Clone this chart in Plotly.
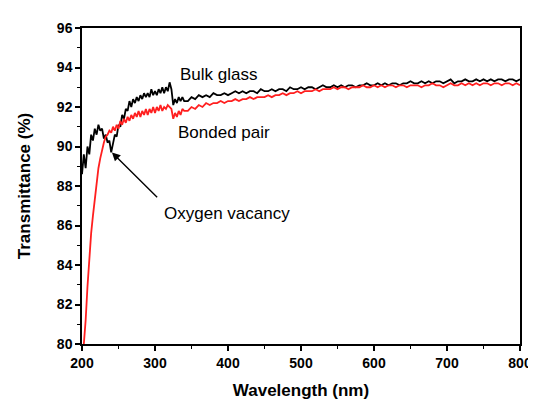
import plotly.graph_objects as go

# wavelength grid (nm): fine steps in the noisy UV region, coarser afterwards
wavelength_fine = [200 + 2.5 * i for i in range(57)]      # 200 ... 340
wavelength_coarse = list(range(345, 801, 5))               # 345 ... 800

bulk_glass_fine = [
    88.6, 89.6, 88.9, 90.0, 89.6, 90.6, 90.3, 90.9, 90.6, 91.1,
    90.8, 90.9, 90.4, 90.6, 90.2, 90.3, 89.7, 90.1, 90.6, 90.5,
    91.1, 91.0, 91.6, 91.4, 91.9, 91.8, 92.3, 92.0, 92.4, 92.2,
    92.5, 92.3, 92.6, 92.4, 92.7, 92.5, 92.7, 92.5, 92.9, 92.6,
    92.8, 92.6, 92.9, 92.7, 93.0, 92.7, 93.0, 92.8, 93.25, 92.9,
    92.1, 92.4, 92.2, 92.5, 92.3, 92.5, 92.3,
]
bulk_glass_coarse = [
    92.3, 92.5, 92.4, 92.6, 92.5, 92.6, 92.5, 92.7, 92.6, 92.6,
    92.7, 92.6, 92.7, 92.8, 92.7, 92.8, 92.7, 92.8, 92.8, 92.7,
    92.9, 92.8, 92.8, 92.9, 92.8, 92.9, 92.9, 92.8, 93.0, 92.9,
    92.9, 93.0, 92.9, 93.0, 93.0, 92.9, 93.0, 93.1, 93.0, 93.0,
    93.1, 93.0, 93.1, 93.0, 93.1, 93.1, 93.0, 93.1, 93.1, 93.2,
    93.1, 93.1, 93.2, 93.1, 93.2, 93.1, 93.2, 93.2, 93.1, 93.2,
    93.2, 93.3, 93.2, 93.2, 93.3, 93.2, 93.3, 93.2, 93.3, 93.3,
    93.2, 93.3, 93.4, 93.2, 93.3, 93.3, 93.4, 93.3, 93.3, 93.4,
    93.3, 93.4, 93.3, 93.4, 93.3, 93.4, 93.4, 93.3, 93.4, 93.4,
    93.3, 93.4,
]

bonded_pair_fine = [
    None, 80.0, 81.2, 82.9, 84.4, 85.6, 86.5, 87.4, 88.2, 88.9,
    89.4, 89.9, 90.2, 90.5, 90.6, 90.8, 90.7, 91.0, 90.8, 91.1,
    90.9, 91.3, 91.1, 91.4, 91.2, 91.5, 91.3, 91.6, 91.4, 91.7,
    91.5, 91.8, 91.5, 91.8, 91.6, 91.9, 91.6, 91.9, 91.7, 92.0,
    91.7, 92.0, 91.8, 92.1, 91.8, 92.0, 91.9, 92.1, 92.0, 91.9,
    91.4, 91.7, 91.5, 91.8, 91.6, 91.9, 91.8,
]
bonded_pair_coarse = [
    91.8, 92.0, 91.9, 92.1, 92.0, 92.2, 92.1, 92.2, 92.2, 92.3,
    92.2, 92.3, 92.3, 92.4, 92.3, 92.4, 92.4, 92.5, 92.4, 92.5,
    92.5, 92.5, 92.6, 92.5, 92.6, 92.6, 92.7, 92.6, 92.7, 92.7,
    92.8, 92.7, 92.8, 92.8, 92.8, 92.9, 92.8, 92.9, 92.9, 92.9,
    93.0, 92.9, 93.0, 93.0, 92.9, 93.0, 93.0, 93.0, 93.1, 93.0,
    93.0, 93.1, 93.0, 93.1, 93.0, 93.1, 93.1, 93.0, 93.1, 93.1,
    93.0, 93.1, 93.1, 93.1, 93.0, 93.1, 93.1, 93.2, 93.1, 93.1,
    93.0, 93.1, 93.2, 93.1, 93.1, 93.2, 93.1, 93.2, 93.1, 93.2,
    93.1, 93.2, 93.2, 93.1, 93.2, 93.2, 93.1, 93.2, 93.2, 93.1,
    93.2, 93.1,
]

x_ticks = [200, 300, 400, 500, 600, 700, 800]
y_ticks = [80, 82, 84, 86, 88, 90, 92, 94, 96]

wavelength = wavelength_fine + wavelength_coarse
bulk_glass = bulk_glass_fine + bulk_glass_coarse
bonded_pair = bonded_pair_fine + bonded_pair_coarse

FONT = "Liberation Sans, Arial, sans-serif"

fig = go.Figure()
fig.add_trace(go.Scatter(x=wavelength, y=bulk_glass, mode="lines",
                         line=dict(color="black", width=1.8), name="Bulk glass",
                         showlegend=False))
fig.add_trace(go.Scatter(x=wavelength, y=bonded_pair, mode="lines",
                         line=dict(color="#ff1f1f", width=1.8),
                         name="Bonded pair", showlegend=False))

font_txt = dict(family=FONT, size=17, color="black")
fig.add_annotation(x=332, y=93.64, text="Bulk glass", showarrow=False,
                   xanchor="left", yanchor="middle", font=font_txt)
fig.add_annotation(x=329, y=90.7, text="Bonded pair", showarrow=False,
                   xanchor="left", yanchor="middle", font=font_txt)
fig.add_annotation(x=309, y=86.62, text="Oxygen vacancy", showarrow=False,
                   xanchor="left", yanchor="middle", font=font_txt)
fig.add_annotation(x=241, y=89.7, ax=305, ay=87.35, axref="x", ayref="y",
                   xref="x", yref="y", text="", showarrow=True,
                   arrowhead=2, arrowsize=1.2, arrowwidth=1.4, arrowcolor="black")

axis_common = dict(
    showline=True, linecolor="black", linewidth=1.5, mirror=True,
    ticks="outside", ticklen=5, tickwidth=1.5, tickcolor="black",
    showgrid=False, zeroline=False,
    tickfont=dict(family=FONT, size=14, color="black", weight="bold"),
    minor=dict(ticks="outside", ticklen=3, tickwidth=1.2, tickcolor="black"),
)

fig.update_xaxes(range=[200, 800], tickvals=x_ticks, ticktext=[str(v) for v in x_ticks],
                 minor_dtick=50,
                 title=dict(text="<b>Wavelength (nm)</b>", standoff=15,
                            font=dict(family=FONT, size=17, color="black")),
                 **axis_common)
fig.update_yaxes(range=[80, 96], tickvals=y_ticks, ticktext=[str(v) for v in y_ticks],
                 minor_dtick=1,
                 title=dict(text="<b>Transmittance (%)</b>", standoff=22,
                            font=dict(family=FONT, size=17, color="black")),
                 **axis_common)

fig.update_layout(width=536, height=401, margin=dict(l=74, r=19, t=12, b=63),
                  plot_bgcolor="white", paper_bgcolor="white")

fig.write_html("out.html")
